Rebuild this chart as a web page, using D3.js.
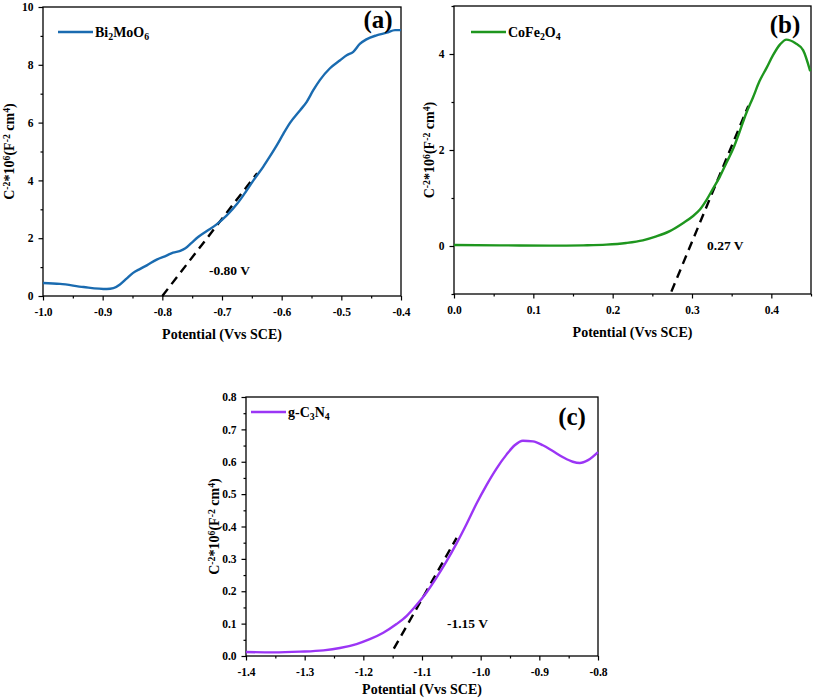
<!DOCTYPE html>
<html><head><meta charset="utf-8">
<script src="https://cdn.jsdelivr.net/npm/d3@7"></script>
<style>
html,body{margin:0;padding:0;background:#fff;}
svg{display:block;font-family:"Liberation Serif","Times New Roman",serif;font-weight:bold;}
</style></head>
<body>
<svg id="chart" width="813" height="699"></svg>
<script>
// ---------- DATA ----------
const bmoX = [-1.0,-0.9715,-0.932,-0.893,-0.882,-0.871,-0.860,-0.849,-0.837,-0.826,-0.8095,-0.793,-0.782,-0.770,-0.762,-0.751,-0.740,-0.726,-0.709,-0.692,-0.675,-0.664,-0.647,-0.631,-0.620,-0.608,-0.597,-0.586,-0.569,-0.558,-0.547,-0.536,-0.519,-0.502,-0.491,-0.480,-0.469,-0.458,-0.441,-0.424,-0.410,-0.400];
const bmoY = [0.45,0.42,0.31,0.24,0.27,0.40,0.60,0.80,0.94,1.06,1.26,1.40,1.50,1.56,1.64,1.84,2.04,2.24,2.48,2.79,3.18,3.49,4.01,4.47,4.82,5.22,5.62,5.99,6.43,6.72,7.12,7.47,7.88,8.16,8.33,8.45,8.72,8.88,9.02,9.11,9.20,9.20];

const cfoX = [0,0.0576,0.12,0.163,0.192,0.217,0.238,0.255,0.272,0.289,0.301,0.310,0.318,0.326,0.335,0.343,0.352,0.360,0.368,0.377,0.385,0.394,0.402,0.411,0.419,0.430,0.440,0.449];
const cfoY = [0.02,0.014,0.007,0.014,0.028,0.063,0.118,0.20,0.31,0.48,0.62,0.76,0.95,1.18,1.44,1.72,2.03,2.38,2.75,3.10,3.43,3.71,3.97,4.20,4.30,4.23,4.08,3.64];

const gcnX = [-1.4,-1.3535,-1.308,-1.268,-1.240,-1.2116,-1.189,-1.166,-1.1434,-1.126,-1.109,-1.092,-1.0753,-1.0583,-1.0413,-1.0242,-1.007,-0.990,-0.973,-0.956,-0.942,-0.928,-0.911,-0.894,-0.877,-0.8596,-0.843,-0.831,-0.817,-0.80];
const gcnY = [0.0123,0.0113,0.0134,0.0175,0.0246,0.037,0.052,0.072,0.0986,0.124,0.158,0.197,0.242,0.292,0.347,0.407,0.471,0.528,0.579,0.622,0.651,0.665,0.663,0.651,0.633,0.614,0.600,0.596,0.605,0.630];

// tangent (Mott-Schottky extrapolation) lines: [x0,y0,x1,y1]
const bmoFit = [-0.800, 0.0, -0.641, 4.25];
const cfoFit = [0.274, -0.95, 0.371, 2.92];
const gcnFit = [-1.148, 0.0225, -1.041, 0.365];

const seriesNames = ["Bi2MoO6", "CoFe2O4", "g-C3N4"];
const onsetLabels = ["-0.80 V", "0.27 V", "-1.15 V"];
const panelLabels = ["(a)", "(b)", "(c)"];

const bmoXTicks = [-1.0,-0.9,-0.8,-0.7,-0.6,-0.5,-0.4];
const bmoYTicks = [0,2,4,6,8,10];
const cfoXTicks = [0.0,0.1,0.2,0.3,0.4];
const cfoYTicks = [0,2,4];
const gcnXTicks = [-1.4,-1.3,-1.2,-1.1,-1.0,-0.9,-0.8];
const gcnYTicks = [0.0,0.1,0.2,0.3,0.4,0.5,0.6,0.7,0.8];

// ---------- DRAW ----------
const svg = d3.select("#chart");

function subText(sel, parts, baseSize) {
  parts.forEach(p => {
    const t = sel.append("tspan").text(p[0]);
    if (p[1] === "sub") t.attr("font-size", baseSize*0.7).attr("baseline-shift", "-30%");
    if (p[1] === "sup") t.attr("font-size", baseSize*0.7).attr("baseline-shift", "45%");
  });
}

const fmt1 = v => d3.format(".1f")(v).replace("\u2212", "-");
const fmt0 = v => d3.format("d")(v).replace("\u2212", "-");

function panel(cfg) {
  const g = svg.append("g");
  const x = d3.scaleLinear().domain(cfg.xDomain).range([cfg.left, cfg.right]);
  const y = d3.scaleLinear().domain(cfg.yDomain).range([cfg.bottom, cfg.top]);

  g.append("rect").attr("x", cfg.left).attr("y", cfg.top)
    .attr("width", cfg.right - cfg.left).attr("height", cfg.bottom - cfg.top)
    .attr("fill", "none").attr("stroke", "#000").attr("stroke-width", 1.3);

  const xAxisMinor = d3.axisBottom(x).tickValues(cfg.xMinor).tickSize(2.5).tickFormat("");
  g.append("g").attr("transform", `translate(0,${cfg.bottom})`).call(xAxisMinor)
    .call(a => a.select(".domain").remove());
  const yAxisMinor = d3.axisLeft(y).tickValues(cfg.yMinor).tickSize(2.5).tickFormat("");
  g.append("g").attr("transform", `translate(${cfg.left},0)`).call(yAxisMinor)
    .call(a => a.select(".domain").remove());

  const xAxis = d3.axisBottom(x).tickValues(cfg.xTicks).tickSize(4.5).tickPadding(7).tickFormat(cfg.xFmt);
  const xa = g.append("g").attr("transform", `translate(0,${cfg.bottom})`).call(xAxis);
  xa.select(".domain").remove();
  const yAxis = d3.axisLeft(y).tickValues(cfg.yTicks).tickSize(4.5).tickPadding(5).tickFormat(cfg.yFmt);
  const ya = g.append("g").attr("transform", `translate(${cfg.left},0)`).call(yAxis);
  ya.select(".domain").remove();
  g.selectAll(".tick line").attr("stroke", "#000").attr("stroke-width", 1.2);
  g.selectAll(".tick text").attr("font-family", "Liberation Serif, serif")
    .attr("font-weight", "bold").attr("font-size", 11.5).attr("fill", "#000");

  const f = cfg.fit;
  g.append("line").attr("x1", x(f[0])).attr("y1", y(f[1])).attr("x2", x(f[2])).attr("y2", y(f[3]))
    .attr("stroke", "#000").attr("stroke-width", 2.4).attr("stroke-dasharray", "9,6");

  const pts = cfg.xs.map((v, i) => [v, cfg.ys[i]]);
  g.append("path").datum(pts)
    .attr("d", d3.line().x(d => x(d[0])).y(d => y(d[1])).curve(d3.curveMonotoneX))
    .attr("fill", "none").attr("stroke", cfg.color).attr("stroke-width", 2.4);

  g.append("line").attr("x1", cfg.legX).attr("x2", cfg.legX + 35)
    .attr("y1", cfg.legY).attr("y2", cfg.legY)
    .attr("stroke", cfg.color).attr("stroke-width", 2.4);
  const lt = g.append("text").attr("x", cfg.legX + 37).attr("y", cfg.legY + 4.5)
    .attr("font-size", 14).attr("fill", "#000");
  subText(lt, cfg.legParts, 14);

  g.append("text").attr("x", cfg.plX).attr("y", cfg.plY).attr("text-anchor", "middle")
    .attr("font-size", 25).attr("fill", "#000").text(cfg.panelLabel);

  g.append("text").attr("x", cfg.onX).attr("y", cfg.onY)
    .attr("font-size", 13.5).attr("fill", "#000").text(cfg.onset);

  g.append("text").attr("x", (cfg.left + cfg.right) / 2).attr("y", cfg.xTitleY)
    .attr("text-anchor", "middle").attr("font-size", 14).attr("fill", "#000")
    .text("Potential (Vvs SCE)");

  const yt = g.append("text")
    .attr("transform", `translate(${cfg.yTitleX},${(cfg.top + cfg.bottom) / 2}) rotate(-90)`)
    .attr("text-anchor", "middle").attr("font-size", 14).attr("fill", "#000");
  subText(yt, [["C"],["-2","sup"],["*10"],["6","sup"],["(F"],["-2","sup"],[" cm"],["4","sup"],[")"]], 14);
}

function range(a, b, s) { const r = []; for (let v = a; v <= b + 1e-9; v += s) r.push(+v.toFixed(4)); return r; }

panel({
  left: 43, right: 401, top: 7, bottom: 296,
  xDomain: [-1.0, -0.4], yDomain: [0, 10],
  xTicks: bmoXTicks, yTicks: bmoYTicks,
  xMinor: range(-0.95, -0.45, 0.1), yMinor: range(1, 9, 2),
  xFmt: fmt1, yFmt: fmt0,
  xs: bmoX, ys: bmoY, fit: bmoFit, color: "#1a6bb0",
  legX: 58, legY: 32, legParts: [["Bi"],["2","sub"],["MoO"],["6","sub"]],
  panelLabel: panelLabels[0], plX: 378, plY: 28,
  onset: onsetLabels[0], onX: 209, onY: 275,
  xTitleY: 339, yTitleX: 14
});

panel({
  left: 454, right: 811, top: 6, bottom: 294,
  xDomain: [0, 0.45], yDomain: [-1, 5],
  xTicks: cfoXTicks, yTicks: cfoYTicks,
  xMinor: range(0.05, 0.45, 0.1), yMinor: [-1, 1, 3, 5],
  xFmt: fmt1, yFmt: fmt0,
  xs: cfoX, ys: cfoY, fit: cfoFit, color: "#1e961e",
  legX: 471, legY: 32, legParts: [["CoFe"],["2","sub"],["O"],["4","sub"]],
  panelLabel: panelLabels[1], plX: 785, plY: 33,
  onset: onsetLabels[1], onX: 707, onY: 250,
  xTitleY: 337, yTitleX: 434
});

panel({
  left: 246, right: 598, top: 397, bottom: 656,
  xDomain: [-1.4, -0.8], yDomain: [0, 0.8],
  xTicks: gcnXTicks, yTicks: gcnYTicks,
  xMinor: range(-1.35, -0.85, 0.1), yMinor: range(0.05, 0.75, 0.1),
  xFmt: fmt1, yFmt: fmt1,
  xs: gcnX, ys: gcnY, fit: gcnFit, color: "#9b35f5",
  legX: 251, legY: 412, legParts: [["g-C"],["3","sub"],["N"],["4","sub"]],
  panelLabel: panelLabels[2], plX: 572, plY: 425,
  onset: onsetLabels[2], onX: 447, onY: 628,
  xTitleY: 694, yTitleX: 219
});
</script>
</body></html>
